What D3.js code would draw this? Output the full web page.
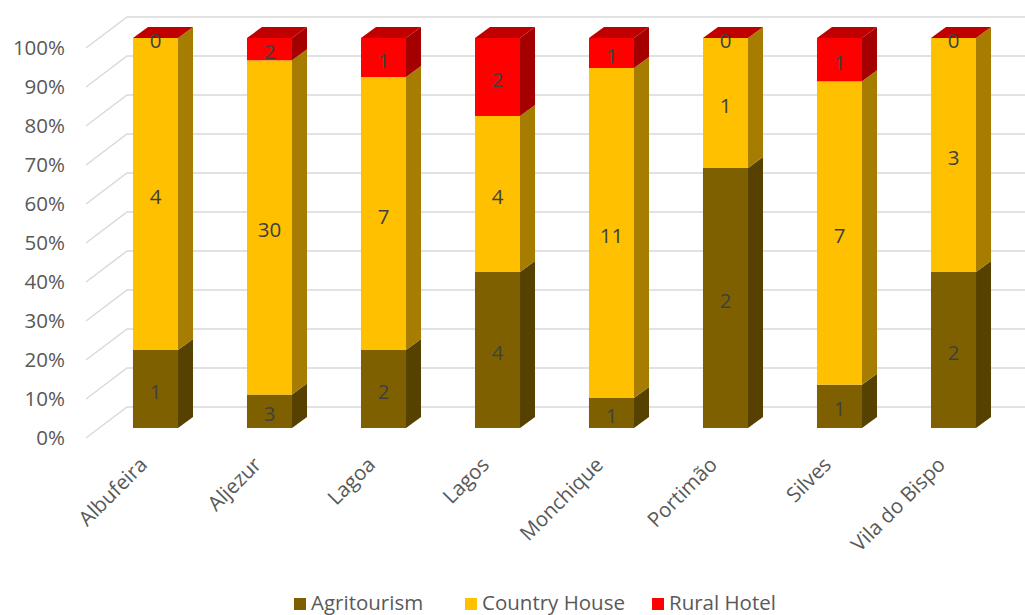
<!DOCTYPE html>
<html><head><meta charset="utf-8">
<script src="https://cdn.jsdelivr.net/npm/d3@7"></script>
<style>body{margin:0;background:#fff}svg{display:block}</style>
</head><body>
<svg id="c" width="1025" height="615"></svg>
<script>
const categories = ["Albufeira","Aljezur","Lagoa","Lagos","Monchique","Portimão","Silves","Vila do Bispo"];
const seriesNames = ["Agritourism","Country House","Rural Hotel"];
const agritourism = [1,3,2,4,1,2,1,2];
const countryHouse = [4,30,7,4,11,1,7,3];
const ruralHotel = [0,2,1,2,1,0,1,0];
const tickLabels = ["0%","10%","20%","30%","40%","50%","60%","70%","80%","90%","100%"];

const colors = {
  front: ["#7F6000","#FFC000","#FF0000"],
  side:  ["#564100","#A67D00","#A40000"],
  top:   ["#6a5000","#D9A300","#C00000"]
};
const font = "'Open Sans', sans-serif";
const fs = "20.5px";
const svg = d3.select("#c");

const series = [agritourism, countryHouse, ruralHotel];
const rows = categories.map((c,i)=>{const o={cat:c}; seriesNames.forEach((s,k)=>o[s]=series[k][i]); return o;});
const stack = d3.stack().keys(seriesNames).offset(d3.stackOffsetExpand);
const stacked = stack(rows);

// scales
const x = d3.scaleBand().domain(categories).range([98.5,1010.5]).paddingInner(0.605).paddingOuter(0.3025);
const yBar = d3.scaleLinear().domain([0,1]).range([428,38]);
const yWall = d3.scaleLinear().domain([0,1]).range([438,48]);
const wallX = 86, wallDX = 41, wallDY = -31;
const bDX = 15, bDY = -11;

// gridlines
const ticks = d3.range(0,1.0001,0.1);
const g = svg.append("g");
ticks.forEach(t=>{
  const yf = yWall(t), yb = yf + wallDY;
  g.append("path").attr("d",`M${wallX},${yf}L${wallX+wallDX},${yb}L1025,${yb}`)
    .attr("fill","none").attr("stroke","#d9d9d9").attr("stroke-width",1.5);
});
// tick labels
g.selectAll("text.tick").data(ticks).enter().append("text")
  .attr("x",65).attr("y",d=>yWall(d)).attr("dy","0.36em")
  .attr("text-anchor","end").attr("fill","#595959")
  .style("font-family",font).style("font-size",fs)
  .text((d,i)=>tickLabels[i]);

// bars
const bars = svg.append("g");
categories.forEach((c,i)=>{
  const x0 = x(c), x1 = x0 + x.bandwidth();
  stacked.forEach((s,k)=>{
    const d = s[i];
    const y0 = yBar(d[0]), y1 = yBar(d[1]);
    bars.append("rect").attr("x",x0).attr("y",y1).attr("width",x1-x0).attr("height",Math.max(0,y0-y1))
      .attr("fill",colors.front[k]);
    bars.append("path").attr("d",`M${x1},${y0}L${x1+bDX},${y0+bDY}L${x1+bDX},${y1+bDY}L${x1},${y1}Z`)
      .attr("fill",colors.side[k]);
    if (k===stacked.length-1){
      bars.append("path").attr("d",`M${x0},${y1}L${x0+bDX},${y1+bDY}L${x1+bDX},${y1+bDY}L${x1},${y1}Z`)
        .attr("fill",colors.top[k]);
    }
  });
});
// value labels
categories.forEach((c,i)=>{
  const cx = x(c) + x.bandwidth()/2;
  stacked.forEach((s,k)=>{
    const d = s[i];
    const ym = (yBar(d[0])+yBar(d[1]))/2;
    svg.append("text").attr("x",cx).attr("y",ym+10)
      .attr("text-anchor","middle").attr("fill","#404040")
      .style("font-family",font).style("font-size",fs)
      .text(series[k][i]);
  });
});
// category labels
categories.forEach(c=>{
  const cx = x(c) + x.bandwidth()/2 - 7;
  svg.append("text").attr("transform",`translate(${cx},466) rotate(-45)`)
    .attr("text-anchor","end").attr("fill","#595959")
    .style("font-family",font).style("font-size",fs).text(c);
});
// legend
const legX = [294,465,652];
seriesNames.forEach((s,k)=>{
  svg.append("rect").attr("x",legX[k]).attr("y",598).attr("width",12).attr("height",12).attr("fill",colors.front[k]);
  svg.append("text").attr("x",legX[k]+17).attr("y",610).attr("fill","#595959")
    .style("font-family",font).style("font-size","20.5px").text(s);
});
</script>
</body></html>
